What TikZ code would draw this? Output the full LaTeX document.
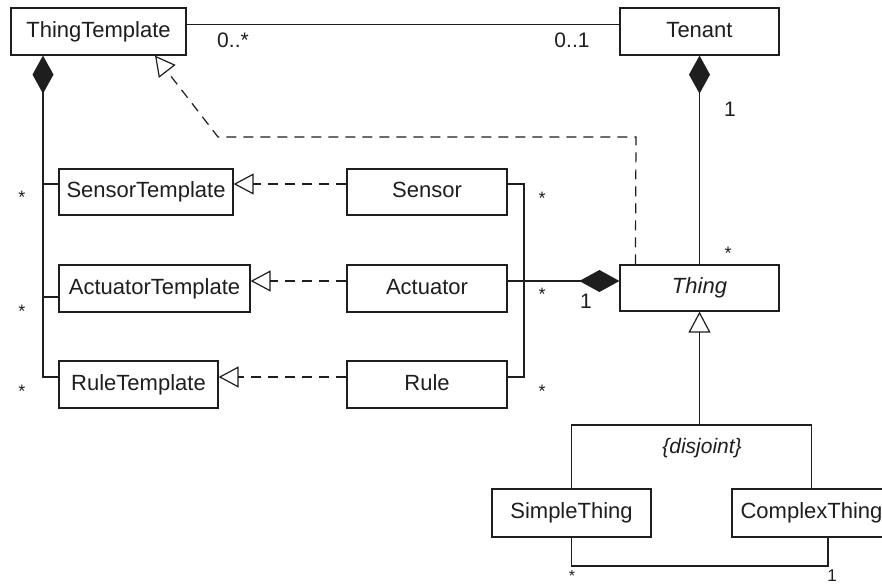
\documentclass[tikz,border=0pt]{standalone}
\usepackage{fontspec}
\setmainfont{Liberation Sans}
\usetikzlibrary{arrows.meta,calc}
\definecolor{ink}{HTML}{1E1E1E}
\begin{document}
\begin{tikzpicture}[x=1pt,y=-1pt,line width=1.2pt,draw=ink,text=ink,
  cls/.style={draw=ink,fill=white,inner sep=0pt,minimum height=47pt,
    text height=15.8pt,text depth=4.6pt,font=\fontsize{22}{24}\selectfont},
  lbl/.style={inner sep=0pt,font=\fontsize{21}{24}\selectfont},
  mstar/.style={inner sep=0pt,anchor=base,font=\fontsize{18}{20}\selectfont},
  realize/.style={dash pattern=on 10pt off 7pt},
  opentri/.style={-{Triangle[open,length=20pt,width=21pt,line width=1.2pt]}},
  compo/.style={{Diamond[length=38pt,width=21pt]}-}]
\clip (0,0) rectangle (882,587);
\fill[white] (0,0) rectangle (882,587);

% classes
\node[cls,minimum width=175pt] (tt)       at (98.5,31.5)  {ThingTemplate};
\node[cls,minimum width=159pt] (tenant)   at (699.5,31.5) {Tenant};
\node[cls,minimum width=174pt,minimum height=46pt] (st) at (146,192) {SensorTemplate};
\node[cls,minimum width=191pt] (at)       at (154.5,288.5) {ActuatorTemplate};
\node[cls,minimum width=159pt] (rt)       at (138.5,384.5) {RuleTemplate};
\node[cls,minimum width=160pt,minimum height=46pt] (sensor) at (427,192) {Sensor};
\node[cls,minimum width=160pt] (actuator) at (427,288.5) {Actuator};
\node[cls,minimum width=160pt] (rule)     at (427,384.5) {Rule};
\node[cls,minimum width=159pt,minimum height=46pt,font=\fontsize{22}{24}\selectfont\itshape] (thing) at (699.5,288) {Thing};
\node[cls,minimum width=159pt,minimum height=48pt] (simple)  at (571.5,513) {SimpleThing};
\node[cls,minimum width=159pt,minimum height=48pt] (complex) at (811.5,513) {ComplexThing};

% ThingTemplate -- Tenant association
\draw (tt.east |- 0,24.5) -- (tenant.west |- 0,24.5);
\node[lbl] (m1) at (233,40) {0..*};
\node[lbl] (m2) at (572,40) {0..1};

% Tenant owns Things
\draw[compo] (tenant.south) -- (thing.north);
\node[lbl] (m3) at (730,109) {1};
\node[mstar] (m4) at (728,259.5) {*};

% Thing realizes ThingTemplate
\coordinate (r1) at (636,137);
\coordinate (r2) at (218,137);
\draw[realize,opentri] ($(thing.north west)+(16,0)$) -- (r1) -- (r2) -- (tt.south -| 155,0);

% element classes realize their templates
\draw[realize,opentri] (sensor.west |- 0,184) -- (st.east |- 0,184);
\draw[realize,opentri] (actuator.west |- 0,281) -- (at.east |- 0,281);
\draw[realize,opentri] (rule.west |- 0,377) -- (rt.east |- 0,377);

% ThingTemplate owns the templates
\coordinate (tv1) at (43,184);
\coordinate (tv2) at (43,297);
\coordinate (tv3) at (43,377);
\draw[compo] (tt.south -| tv1) -- (tv3) -- (rt.west |- tv3);
\draw (tv1) -- (st.west |- tv1);
\draw (tv2) -- (at.west |- tv2);
\node[mstar] (s1) at (22,203.5) {*};
\node[mstar] (s2) at (22,317.5) {*};
\node[mstar] (s3) at (22,397.5) {*};

% Thing owns sensors, actuators and rules
\coordinate (b1) at (524,184);
\coordinate (b2) at (524,377);
\draw (sensor.east |- b1) -- (b1) -- (b2) -- (rule.east |- b2);
\draw[{Diamond[length=40pt,width=22pt]}-] (thing.west |- 0,281) -- (actuator.east |- 0,281);
\node[mstar] (s4) at (542,204.5) {*};
\node[mstar] (s5) at (542,300.5) {*};
\node[mstar] (s6) at (542,397.5) {*};
\node[lbl] (m5) at (586,301.5) {1};

% generalization set
\coordinate (gs) at (699.5,425);
\draw[-{Triangle[open,length=21pt,width=22pt,line width=1.2pt]}] (gs) -- (thing.south);
\draw (simple.north) |- (gs) -| (complex.north);
\node[inner sep=0pt,font=\fontsize{21}{24}\selectfont\itshape] (dj) at (702,448) {\{disjoint\}};

% SimpleThing -- ComplexThing association
\coordinate (c1) at (571.5,566);
\coordinate (c2) at (828,566);
\draw (simple.south) -- (c1) -- (c2) -- (complex.south -| c2);
\node[mstar,font=\fontsize{16}{18}\selectfont] (s7) at (572,581) {*};
\node[lbl,font=\fontsize{17}{20}\selectfont] (m6) at (832,576) {1};
\end{tikzpicture}
\end{document}
